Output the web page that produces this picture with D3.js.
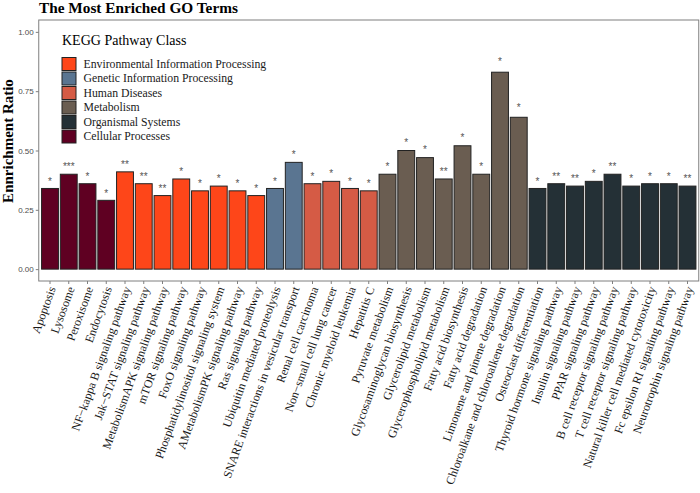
<!DOCTYPE html>
<html>
<head>
<meta charset="utf-8">
<script src="https://cdn.jsdelivr.net/npm/d3@7"></script>
<style>
  body { margin: 0; background: #fff; }
  svg { display: block; }
</style>
</head>
<body>
<div id="chart"></div>
<script>
// pathway terms, in plot order
const terms = [
  "Apoptosis", "Lysosome", "Peroxisome", "Endocytosis",
  "NF\u2212kappa B signaling pathway", "Jak\u2212STAT signaling pathway", "MetabolismAPK signaling pathway",
  "mTOR signaling pathway", "FoxO signaling pathway", "Phosphatidylinositol signaling system",
  "AMetabolismPK signaling pathway", "Ras signaling pathway",
  "Ubiquitin mediated proteolysis", "SNARE interactions in vesicular transport",
  "Renal cell carcinoma", "Non\u2212small cell lung cancer", "Chronic myeloid leukemia", "Hepatitis C",
  "Pyruvate metabolism", "Glycosaminoglycan biosynthesis", "Glycerolipid metabolism",
  "Glycerophospholipid metabolism", "Fatty acid biosynthesis", "Fatty acid degradation",
  "Limonene and pinene degradation", "Chloroalkane and chloroalkene degradation",
  "Osteoclast differentiation", "Thyroid hormone signaling pathway", "Insulin signaling pathway",
  "PPAR signaling pathway", "B cell receptor signaling pathway", "T cell receptor signaling pathway",
  "Natural killer cell mediated cytotoxicity", "Fc epsilon RI signaling pathway",
  "Neurotrophin signaling pathway"
];

const ratios = [
  0.34, 0.40, 0.36, 0.29,
  0.41, 0.36, 0.31, 0.38, 0.33, 0.35, 0.33, 0.31,
  0.34, 0.45,
  0.36, 0.37, 0.34, 0.33,
  0.40, 0.50, 0.47, 0.38, 0.52, 0.40, 0.83, 0.64,
  0.34, 0.36, 0.35, 0.37, 0.40, 0.35, 0.36, 0.36, 0.35
];

const stars = [
  "*", "***", "*", "*",
  "**", "**", "**", "*", "*", "*", "*", "*",
  "*", "*",
  "*", "*", "*", "*",
  "*", "*", "*", "**", "*", "*", "*", "*",
  "*", "**", "**", "*", "**", "*", "*", "*", "**"
];

const classOf = [
  "Cellular Processes", "Cellular Processes", "Cellular Processes", "Cellular Processes",
  "Environmental Information Processing", "Environmental Information Processing",
  "Environmental Information Processing", "Environmental Information Processing",
  "Environmental Information Processing", "Environmental Information Processing",
  "Environmental Information Processing", "Environmental Information Processing",
  "Genetic Information Processing", "Genetic Information Processing",
  "Human Diseases", "Human Diseases", "Human Diseases", "Human Diseases",
  "Metabolism", "Metabolism", "Metabolism", "Metabolism",
  "Metabolism", "Metabolism", "Metabolism", "Metabolism",
  "Organismal Systems", "Organismal Systems", "Organismal Systems",
  "Organismal Systems", "Organismal Systems", "Organismal Systems",
  "Organismal Systems", "Organismal Systems", "Organismal Systems"
];

// legend order
const classes = [
  "Environmental Information Processing", "Genetic Information Processing",
  "Human Diseases", "Metabolism", "Organismal Systems", "Cellular Processes"
];
const classColors = ["#fe4619", "#5a7591", "#d55b45", "#6a5d51", "#243036", "#5f0022"];

const yTicks = [0, 0.25, 0.5, 0.75, 1.0];

const width = 700;
const height = 493;
const panel = { left: 38.75, right: 698.75, top: 20, bottom: 281 };

const data = terms.map((t, i) => ({ term: t, ratio: ratios[i], star: stars[i], cls: classOf[i] }));

const svg = d3.select("#chart").append("svg")
  .attr("width", width)
  .attr("height", height);

const x = d3.scaleBand()
  .domain(terms)
  .range([panel.left, panel.right])
  .paddingInner(0.1)
  .paddingOuter(0.15);

const y = d3.scaleLinear()
  .domain([-0.05, 1.05])
  .range([panel.bottom, panel.top]);

const color = d3.scaleOrdinal().domain(classes).range(classColors);

// bars
svg.append("g")
  .selectAll("rect")
  .data(data)
  .enter()
  .append("rect")
  .attr("x", (d) => x(d.term))
  .attr("y", (d) => y(d.ratio))
  .attr("width", x.bandwidth())
  .attr("height", (d) => y(0) - y(d.ratio))
  .style("fill", (d) => color(d.cls))
  .style("stroke", "#222")
  .style("stroke-width", 1);

// significance stars, a little above each bar
svg.append("g")
  .selectAll("text")
  .data(data)
  .enter()
  .append("text")
  .attr("x", (d) => x(d.term) + x.bandwidth() / 2)
  .attr("y", (d) => y(d.ratio * 1.03 + 0.006))
  .attr("text-anchor", "middle")
  .style("font-family", "'Liberation Sans', Arial, sans-serif")
  .style("font-size", "10px")
  .style("fill", "#555")
  .text((d) => d.star);

// panel border
svg.append("rect")
  .attr("x", panel.left)
  .attr("y", panel.top)
  .attr("width", panel.right - panel.left)
  .attr("height", panel.bottom - panel.top)
  .style("fill", "none")
  .style("stroke", "#7f7f7f")
  .style("stroke-width", 1);

// y axis
const yAxis = svg.append("g")
  .attr("transform", `translate(${panel.left},0)`)
  .call(d3.axisLeft(y).tickValues(yTicks).tickFormat(d3.format(".2f")).tickSize(3).tickPadding(2));
yAxis.select(".domain").remove();
yAxis.selectAll("line").style("stroke", "#7f7f7f");
yAxis.selectAll("text")
  .style("font-family", "'Liberation Sans', Arial, sans-serif")
  .style("font-size", "8px")
  .style("fill", "#4d4d4d");

// x axis
const xAxis = svg.append("g")
  .attr("transform", `translate(0,${panel.bottom})`)
  .call(d3.axisBottom(x).tickSize(3).tickSizeOuter(0).tickPadding(0));
xAxis.select(".domain").remove();
xAxis.selectAll("line").style("stroke", "#7f7f7f");
xAxis.selectAll("text")
  .attr("text-anchor", "end")
  .attr("transform", "translate(2,6) rotate(-70)")
  .attr("x", 0)
  .attr("y", 0)
  .attr("dy", "0.35em")
  .style("font-family", "'Liberation Serif', 'Times New Roman', serif")
  .style("font-size", "12px")
  .style("fill", "#1a1a1a");

// title
svg.append("text")
  .attr("x", 39)
  .attr("y", 12.5)
  .style("font-family", "'Liberation Serif', 'Times New Roman', serif")
  .style("font-size", "15.3px")
  .style("font-weight", "bold")
  .text("The Most Enriched GO Terms");

// y axis title
svg.append("text")
  .attr("transform", "translate(13,141) rotate(-90)")
  .attr("text-anchor", "middle")
  .style("font-family", "'Liberation Serif', 'Times New Roman', serif")
  .style("font-size", "15px")
  .style("font-weight", "bold")
  .text("Ennrichment Ratio");

// legend
const legend = svg.append("g").attr("transform", "translate(62,0)");
legend.append("text")
  .attr("x", 0)
  .attr("y", 45)
  .style("font-family", "'Liberation Serif', 'Times New Roman', serif")
  .style("font-size", "14px")
  .text("KEGG Pathway Class");

const item = legend.selectAll("g.item")
  .data(classes)
  .enter()
  .append("g")
  .attr("class", "item")
  .attr("transform", (d, i) => `translate(0,${57.5 + i * 14.5})`);

item.append("rect")
  .attr("width", 14)
  .attr("height", 13)
  .style("fill", (d) => color(d))
  .style("stroke", "#222")
  .style("stroke-width", 1);

item.append("text")
  .attr("x", 21.5)
  .attr("y", 10)
  .style("font-family", "'Liberation Serif', 'Times New Roman', serif")
  .style("font-size", "11.75px")
  .style("fill", "#1a1a1a")
  .text((d) => d);
</script>
</body>
</html>
